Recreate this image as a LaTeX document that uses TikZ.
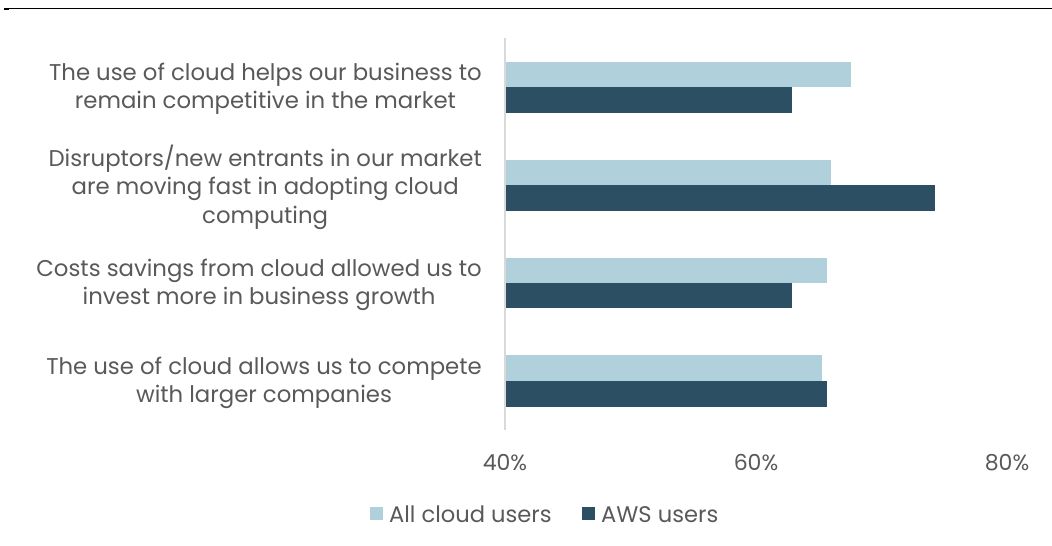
\documentclass[tikz,border=0pt]{standalone}
\usepackage{fontspec}
\setmainfont{Poppins}
\definecolor{allcloud}{HTML}{B0D0DB}
\definecolor{awsuser}{HTML}{2C4F64}
\definecolor{labelgray}{HTML}{595959}
\definecolor{axisgray}{HTML}{D9D9D9}
\begin{document}
\begin{tikzpicture}[x=1pt,y=-1pt]
  \useasboundingbox (0,0) rectangle (1052,546);

  % frame line at the top
  \draw[line width=1.2pt] (4,8.5) -- (1052,8.5);
  \fill (4,8) rectangle (9,10);

  % value axis
  \draw[axisgray,line width=1.5pt] (505,38) -- (505,430);

  % bars, light = all cloud users, dark = AWS users
  \begin{scope}[every path/.style={draw=none}]
    \fill[allcloud] (506,62.3)  rectangle (850.7,87.3);
    \fill[awsuser]  (506,87.3)  rectangle (791.7,112.7);
    \fill[allcloud] (506,160)   rectangle (831,185.3);
    \fill[awsuser]  (506,185.3) rectangle (935,210.7);
    \fill[allcloud] (506,257.7) rectangle (826.7,283);
    \fill[awsuser]  (506,283)   rectangle (791.7,308.3);
    \fill[allcloud] (506,355.3) rectangle (821.7,380.7);
    \fill[awsuser]  (506,380.7) rectangle (827.3,406.7);
  \end{scope}

  % category labels
  \begin{scope}[every node/.style={anchor=east,align=center,text=labelgray,inner sep=0pt,
      font=\fontsize{22.8}{28.5}\selectfont}]
    \node (1) at (482,89)  {The use of cloud helps our business to\\remain competitive in the market};
    \node (2) at (482,187) {Disruptors/new entrants in our market\\are moving fast in adopting cloud\\computing};
    \node (3) at (482,285) {Costs savings from cloud allowed us to\\invest more in business growth};
    \node (4) at (482,383) {The use of cloud allows us to compete\\with larger companies};
  \end{scope}

  % tick labels
  \begin{scope}[every node/.style={anchor=base,text=labelgray,inner sep=0pt,
      font=\fontsize{22}{26}\selectfont}]
    \node (t40) at (505,470)  {40\%};
    \node (t60) at (756,470)  {60\%};
    \node (t80) at (1007,470) {80\%};
  \end{scope}

  % legend
  \fill[allcloud] (370,507) rectangle (383,520);
  \fill[awsuser]  (582,507) rectangle (595,520);
  \begin{scope}[every node/.style={anchor=base west,text=labelgray,inner sep=0pt,
      font=\fontsize{22.6}{26}\selectfont}]
    \node (l1) at (389,522) {All cloud users};
    \node (l2) at (601,522) {AWS users};
  \end{scope}

\end{tikzpicture}
\end{document}
